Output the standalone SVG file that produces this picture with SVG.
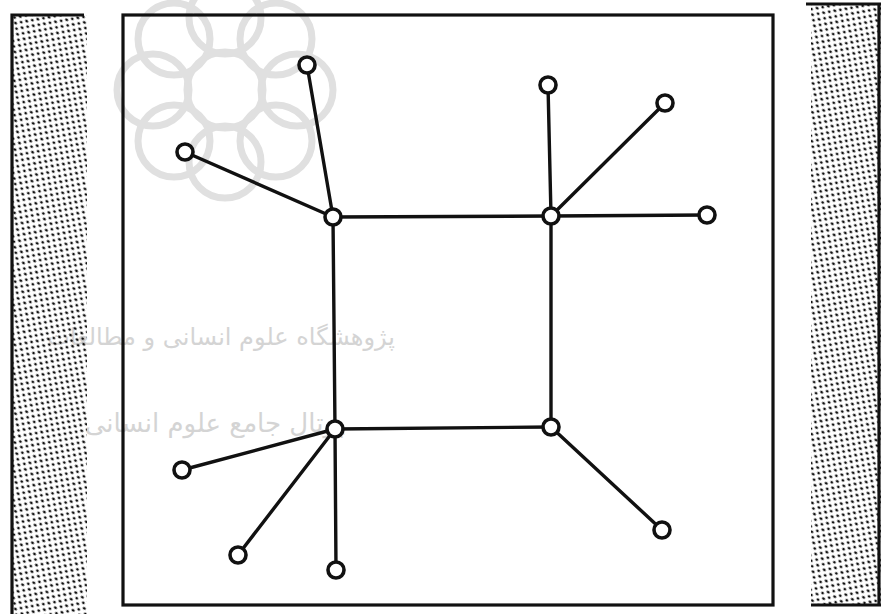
<svg xmlns="http://www.w3.org/2000/svg" width="881" height="614" viewBox="0 0 881 614">
<defs>
<pattern id="dots" width="8" height="8" patternUnits="userSpaceOnUse" patternTransform="rotate(35)">
<ellipse cx="2" cy="2" rx="1.7" ry="1.3" fill="#111"/>
<ellipse cx="6" cy="6" rx="1.5" ry="1.2" fill="#111"/>
</pattern>
</defs>
<style>
.edge{stroke:#111;stroke-width:3.4;fill:none;stroke-linecap:round}
.node{fill:#fff;stroke:#111;stroke-width:3.6}
.frame{fill:none;stroke:#111;stroke-width:3.2}
.wm{fill:none;stroke:#e0e0e0;stroke-width:7}
.wmt{fill:#d4d4d4;font-family:"DejaVu Sans",sans-serif}
</style>
<rect width="881" height="614" fill="#fff"/>
<g id="watermark">
<g transform="translate(225,90)">
<circle cx="0" cy="0" r="38" class="wm"/>
<circle cx="72" cy="0" r="36" class="wm"/>
<circle cx="-72" cy="0" r="36" class="wm"/>
<circle cx="0" cy="72" r="36" class="wm"/>
<circle cx="0" cy="-72" r="36" class="wm"/>
<circle cx="51" cy="51" r="36" class="wm"/>
<circle cx="-51" cy="51" r="36" class="wm"/>
<circle cx="51" cy="-51" r="36" class="wm"/>
<circle cx="-51" cy="-51" r="36" class="wm"/>
</g>
<text x="395" y="345" class="wmt" font-size="24" text-anchor="end">پژوهشگاه علوم انسانی و مطالعات</text>
<text x="345" y="432" class="wmt" font-size="26" text-anchor="end">پرتال جامع علوم انسانی</text>
</g>
<g id="left-strip">
<rect x="12" y="15" width="75" height="599" fill="url(#dots)"/>
<path d="M12,614 V15 H84" class="frame"/>
</g>
<g id="right-strip">
<rect x="811" y="4" width="70" height="601" fill="url(#dots)"/>
<path d="M806,4 H881 M811,605 H881 M879,4 V605" class="frame"/>
</g>
<g id="frame"><rect x="123" y="15" width="650" height="590" class="frame"/></g>
<g id="connectors">
<line x1="333" y1="217" x2="551" y2="216" class="edge"/>
<line x1="333" y1="217" x2="335" y2="429" class="edge"/>
<line x1="551" y1="216" x2="551" y2="427" class="edge"/>
<line x1="335" y1="429" x2="551" y2="427" class="edge"/>
<line x1="333" y1="217" x2="307" y2="65" class="edge"/>
<line x1="333" y1="217" x2="185" y2="152" class="edge"/>
<line x1="551" y1="216" x2="548" y2="85" class="edge"/>
<line x1="551" y1="216" x2="665" y2="103" class="edge"/>
<line x1="551" y1="216" x2="707" y2="215" class="edge"/>
<line x1="335" y1="429" x2="182" y2="470" class="edge"/>
<line x1="335" y1="429" x2="238" y2="555" class="edge"/>
<line x1="335" y1="429" x2="336" y2="570" class="edge"/>
<line x1="551" y1="427" x2="662" y2="530" class="edge"/>
</g>
<g id="n1"><circle cx="333" cy="217" r="8" class="node"/></g>
<g id="n2"><circle cx="551" cy="216" r="8" class="node"/></g>
<g id="n3"><circle cx="335" cy="429" r="8" class="node"/></g>
<g id="n4"><circle cx="551" cy="427" r="8" class="node"/></g>
<g id="n5"><circle cx="307" cy="65" r="8" class="node"/></g>
<g id="n6"><circle cx="185" cy="152" r="8" class="node"/></g>
<g id="n7"><circle cx="548" cy="85" r="8" class="node"/></g>
<g id="n8"><circle cx="665" cy="103" r="8" class="node"/></g>
<g id="n9"><circle cx="707" cy="215" r="8" class="node"/></g>
<g id="n10"><circle cx="182" cy="470" r="8" class="node"/></g>
<g id="n11"><circle cx="238" cy="555" r="8" class="node"/></g>
<g id="n12"><circle cx="336" cy="570" r="8" class="node"/></g>
<g id="n13"><circle cx="662" cy="530" r="8" class="node"/></g>
</svg>
